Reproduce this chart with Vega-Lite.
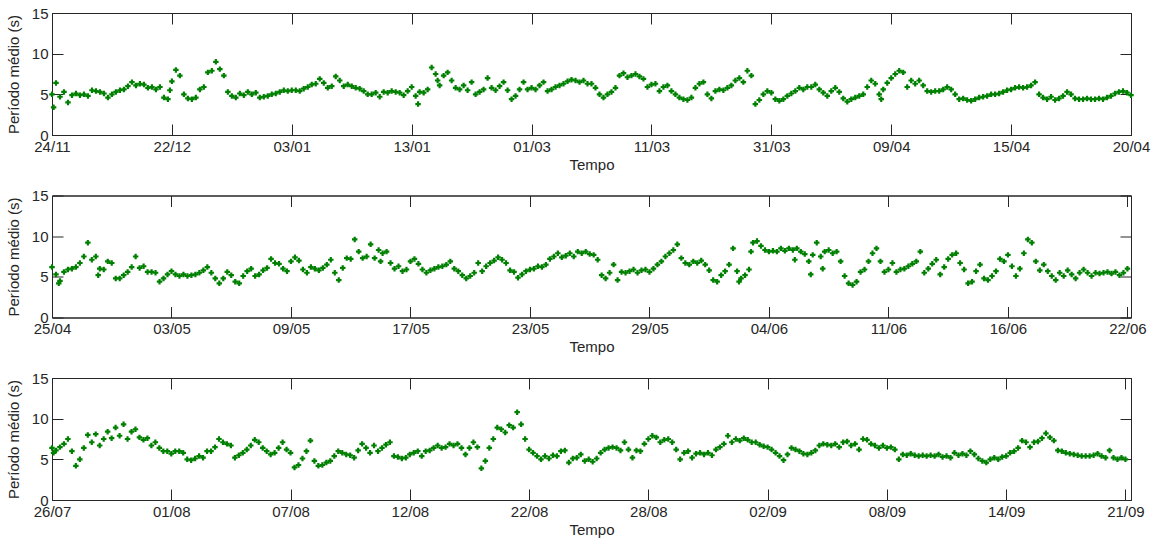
{
"$schema":"https://vega.github.io/schema/vega-lite/v6.json",
"background":"white",
"padding":{"left":5,"top":5,"right":5,"bottom":5},
"config":{"font":"Liberation Sans","view":{"stroke":"#262626","strokeWidth":1},
"axis":{"grid":false,"tickSize":-11,"tickColor":"#262626","domainColor":"#262626","labelColor":"#262626","titleColor":"#262626","labelFontSize":15,"titleFontSize":15,"titleFontWeight":"normal","labelFlush":false,"labelOverlap":false,"labelPadding":15}},
"datasets":{
"p1":[{"i":0,"v":5.0},{"i":0.4,"v":3.4},{"i":1,"v":6.4},{"i":2,"v":4.7},{"i":3,"v":5.3},{"i":4,"v":4.0},{"i":5,"v":4.9},{"i":6,"v":5.1},{"i":7,"v":4.9},{"i":8,"v":5.0},{"i":9,"v":4.8},{"i":10,"v":5.5},{"i":11,"v":5.4},{"i":12,"v":5.3},{"i":13,"v":5.1},{"i":14,"v":4.6},{"i":15,"v":5.0},{"i":16,"v":5.3},{"i":17,"v":5.5},{"i":18,"v":5.6},{"i":19,"v":6.0},{"i":20,"v":6.5},{"i":21,"v":6.1},{"i":22,"v":6.3},{"i":23,"v":6.2},{"i":24,"v":5.8},{"i":25,"v":5.9},{"i":26,"v":5.6},{"i":27,"v":5.9},{"i":28,"v":4.6},{"i":29,"v":4.4},{"i":29.5,"v":5.5},{"i":30,"v":6.6},{"i":31,"v":8.0},{"i":32,"v":7.3},{"i":33,"v":5.0},{"i":34,"v":4.5},{"i":35,"v":4.4},{"i":36,"v":4.6},{"i":37,"v":5.6},{"i":38,"v":5.9},{"i":39,"v":7.7},{"i":40,"v":7.9},{"i":41,"v":9.0},{"i":42,"v":8.1},{"i":43,"v":7.3},{"i":44,"v":5.3},{"i":45,"v":4.8},{"i":46,"v":4.6},{"i":47,"v":5.1},{"i":48,"v":4.9},{"i":49,"v":5.3},{"i":50,"v":5.0},{"i":51,"v":5.2},{"i":52,"v":4.6},{"i":53,"v":4.7},{"i":54,"v":4.8},{"i":55,"v":5.0},{"i":56,"v":5.1},{"i":57,"v":5.3},{"i":58,"v":5.5},{"i":59,"v":5.4},{"i":60,"v":5.5},{"i":61,"v":5.5},{"i":62,"v":5.4},{"i":63,"v":5.7},{"i":64,"v":5.9},{"i":65,"v":6.2},{"i":66,"v":6.3},{"i":67,"v":6.9},{"i":68,"v":6.4},{"i":69,"v":5.8},{"i":70,"v":6.0},{"i":71,"v":7.2},{"i":72,"v":6.7},{"i":73,"v":6.0},{"i":74,"v":6.2},{"i":75,"v":6.0},{"i":76,"v":5.8},{"i":77,"v":5.7},{"i":78,"v":5.4},{"i":79,"v":5.0},{"i":80,"v":5.0},{"i":81,"v":5.2},{"i":82,"v":4.7},{"i":83,"v":5.3},{"i":84,"v":5.2},{"i":85,"v":5.4},{"i":86,"v":5.3},{"i":87,"v":5.2},{"i":88,"v":4.9},{"i":89,"v":5.4},{"i":90,"v":5.9},{"i":91,"v":4.8},{"i":91.6,"v":3.8},{"i":92,"v":5.3},{"i":93,"v":5.2},{"i":94,"v":5.6},{"i":95,"v":8.3},{"i":96,"v":7.5},{"i":96.5,"v":6.7},{"i":97,"v":6.1},{"i":98,"v":7.3},{"i":99,"v":7.7},{"i":100,"v":6.7},{"i":101,"v":5.8},{"i":102,"v":5.6},{"i":103,"v":6.1},{"i":104,"v":5.5},{"i":105,"v":6.5},{"i":106,"v":5.0},{"i":107,"v":5.3},{"i":108,"v":5.6},{"i":109,"v":7.0},{"i":110,"v":5.8},{"i":111,"v":5.5},{"i":112,"v":6.0},{"i":113,"v":6.5},{"i":114,"v":5.5},{"i":115,"v":4.4},{"i":116,"v":4.8},{"i":117,"v":5.6},{"i":118,"v":6.5},{"i":119,"v":5.6},{"i":120,"v":5.8},{"i":121,"v":5.6},{"i":122,"v":6.1},{"i":123,"v":6.5},{"i":124,"v":5.4},{"i":125,"v":5.6},{"i":126,"v":5.9},{"i":127,"v":6.1},{"i":128,"v":6.3},{"i":129,"v":6.6},{"i":130,"v":6.8},{"i":131,"v":6.7},{"i":132,"v":6.5},{"i":133,"v":6.7},{"i":134,"v":6.3},{"i":135,"v":6.3},{"i":136,"v":5.8},{"i":137,"v":5.0},{"i":138,"v":4.6},{"i":139,"v":5.0},{"i":140,"v":5.3},{"i":141,"v":5.8},{"i":142,"v":7.3},{"i":143,"v":7.6},{"i":144,"v":7.1},{"i":145,"v":7.3},{"i":146,"v":7.5},{"i":147,"v":7.2},{"i":148,"v":6.9},{"i":149,"v":5.9},{"i":150,"v":6.2},{"i":151,"v":6.3},{"i":152,"v":5.4},{"i":153,"v":5.9},{"i":154,"v":6.1},{"i":155,"v":5.4},{"i":156,"v":5.0},{"i":157,"v":4.6},{"i":158,"v":4.4},{"i":159,"v":4.3},{"i":160,"v":4.6},{"i":161,"v":5.8},{"i":162,"v":6.3},{"i":163,"v":6.5},{"i":164,"v":5.0},{"i":165,"v":4.5},{"i":166,"v":5.4},{"i":167,"v":5.6},{"i":168,"v":5.5},{"i":169,"v":5.8},{"i":170,"v":6.1},{"i":171,"v":6.7},{"i":172,"v":7.0},{"i":173,"v":6.5},{"i":174,"v":7.9},{"i":175,"v":7.3},{"i":176,"v":3.8},{"i":177,"v":4.3},{"i":178,"v":5.0},{"i":179,"v":5.4},{"i":180,"v":5.2},{"i":181,"v":4.4},{"i":182,"v":4.2},{"i":183,"v":4.4},{"i":184,"v":4.8},{"i":185,"v":5.1},{"i":186,"v":5.4},{"i":187,"v":5.8},{"i":188,"v":5.6},{"i":189,"v":5.9},{"i":190,"v":5.9},{"i":191,"v":6.2},{"i":192,"v":5.6},{"i":193,"v":5.2},{"i":194,"v":4.8},{"i":195,"v":5.4},{"i":196,"v":5.8},{"i":197,"v":5.3},{"i":198,"v":4.5},{"i":199,"v":4.1},{"i":200,"v":4.4},{"i":201,"v":4.6},{"i":202,"v":4.8},{"i":203,"v":5.0},{"i":204,"v":5.9},{"i":205,"v":6.7},{"i":206,"v":6.3},{"i":207,"v":5.0},{"i":207.5,"v":4.4},{"i":208,"v":5.6},{"i":209,"v":6.4},{"i":210,"v":7.0},{"i":211,"v":7.5},{"i":212,"v":7.9},{"i":213,"v":7.7},{"i":214,"v":5.9},{"i":215,"v":6.7},{"i":216,"v":6.3},{"i":217,"v":6.7},{"i":218,"v":6.1},{"i":219,"v":5.4},{"i":220,"v":5.3},{"i":221,"v":5.4},{"i":222,"v":5.4},{"i":223,"v":5.6},{"i":224,"v":5.9},{"i":225,"v":5.6},{"i":226,"v":5.0},{"i":227,"v":4.4},{"i":228,"v":4.5},{"i":229,"v":4.3},{"i":230,"v":4.2},{"i":231,"v":4.4},{"i":232,"v":4.6},{"i":233,"v":4.7},{"i":234,"v":4.8},{"i":235,"v":5.0},{"i":236,"v":5.0},{"i":237,"v":5.1},{"i":238,"v":5.3},{"i":239,"v":5.5},{"i":240,"v":5.6},{"i":241,"v":5.8},{"i":242,"v":5.9},{"i":243,"v":5.8},{"i":244,"v":5.9},{"i":245,"v":6.1},{"i":246,"v":6.5},{"i":247,"v":5.0},{"i":248,"v":4.6},{"i":249,"v":4.4},{"i":250,"v":4.7},{"i":251,"v":4.3},{"i":252,"v":4.5},{"i":253,"v":4.8},{"i":254,"v":5.3},{"i":255,"v":5.0},{"i":256,"v":4.5},{"i":257,"v":4.4},{"i":258,"v":4.4},{"i":259,"v":4.5},{"i":260,"v":4.4},{"i":261,"v":4.4},{"i":262,"v":4.5},{"i":263,"v":4.4},{"i":264,"v":4.6},{"i":265,"v":4.8},{"i":266,"v":5.1},{"i":267,"v":5.3},{"i":268,"v":5.4},{"i":269,"v":5.2},{"i":270,"v":4.9}],
"p2":[{"i":0,"v":6.2},{"i":1,"v":5.3},{"i":1.7,"v":4.2},{"i":2,"v":4.5},{"i":3,"v":5.6},{"i":4,"v":5.9},{"i":5,"v":6.0},{"i":6,"v":6.2},{"i":7,"v":6.7},{"i":8,"v":7.5},{"i":9,"v":9.2},{"i":10,"v":7.1},{"i":11,"v":7.5},{"i":11.6,"v":5.2},{"i":12,"v":6.0},{"i":13,"v":5.9},{"i":14,"v":6.9},{"i":15,"v":6.7},{"i":16,"v":4.8},{"i":17,"v":4.8},{"i":18,"v":5.2},{"i":19,"v":5.6},{"i":20,"v":6.2},{"i":21,"v":7.5},{"i":22,"v":6.1},{"i":23,"v":6.3},{"i":24,"v":5.6},{"i":25,"v":5.6},{"i":26,"v":5.5},{"i":27,"v":4.4},{"i":28,"v":4.8},{"i":29,"v":5.3},{"i":30,"v":5.7},{"i":31,"v":5.3},{"i":32,"v":5.1},{"i":33,"v":5.3},{"i":34,"v":5.1},{"i":35,"v":5.2},{"i":36,"v":5.3},{"i":37,"v":5.5},{"i":38,"v":5.8},{"i":39,"v":6.2},{"i":40,"v":5.5},{"i":41,"v":4.8},{"i":42,"v":4.2},{"i":43,"v":4.8},{"i":44,"v":5.6},{"i":45,"v":5.2},{"i":46,"v":4.4},{"i":47,"v":4.2},{"i":48,"v":5.1},{"i":49,"v":5.7},{"i":50,"v":6.0},{"i":51,"v":5.1},{"i":52,"v":5.3},{"i":53,"v":5.8},{"i":54,"v":6.1},{"i":55,"v":7.2},{"i":56,"v":6.7},{"i":57,"v":6.6},{"i":58,"v":6.0},{"i":59,"v":5.7},{"i":60,"v":6.9},{"i":61,"v":7.4},{"i":62,"v":7.0},{"i":63,"v":5.9},{"i":64,"v":5.5},{"i":65,"v":6.2},{"i":66,"v":6.0},{"i":67,"v":5.8},{"i":68,"v":6.1},{"i":69,"v":6.5},{"i":70,"v":7.1},{"i":71,"v":5.5},{"i":72,"v":4.6},{"i":73,"v":6.1},{"i":74,"v":7.3},{"i":75,"v":7.2},{"i":76,"v":9.6},{"i":77,"v":8.1},{"i":78,"v":7.3},{"i":79,"v":7.5},{"i":80,"v":9.0},{"i":81,"v":7.3},{"i":82,"v":8.3},{"i":82.5,"v":6.9},{"i":83,"v":7.9},{"i":84,"v":8.1},{"i":85,"v":6.7},{"i":86,"v":6.0},{"i":87,"v":6.3},{"i":88,"v":5.7},{"i":89,"v":5.9},{"i":90,"v":6.9},{"i":91,"v":7.2},{"i":92,"v":6.6},{"i":93,"v":5.9},{"i":94,"v":5.5},{"i":95,"v":5.8},{"i":96,"v":6.0},{"i":97,"v":6.2},{"i":98,"v":6.3},{"i":99,"v":6.5},{"i":100,"v":6.9},{"i":101,"v":6.0},{"i":102,"v":5.7},{"i":103,"v":5.2},{"i":104,"v":4.8},{"i":105,"v":5.1},{"i":106,"v":5.5},{"i":107,"v":6.7},{"i":108,"v":5.7},{"i":109,"v":6.3},{"i":110,"v":6.7},{"i":111,"v":7.0},{"i":112,"v":7.4},{"i":113,"v":7.1},{"i":114,"v":6.7},{"i":115,"v":5.8},{"i":116,"v":5.6},{"i":117,"v":4.9},{"i":118,"v":5.3},{"i":119,"v":5.7},{"i":120,"v":5.9},{"i":121,"v":6.0},{"i":122,"v":6.3},{"i":123,"v":6.2},{"i":124,"v":6.5},{"i":125,"v":7.2},{"i":126,"v":7.5},{"i":127,"v":7.9},{"i":128,"v":7.4},{"i":129,"v":7.6},{"i":130,"v":7.9},{"i":131,"v":7.5},{"i":132,"v":8.1},{"i":133,"v":7.9},{"i":134,"v":8.1},{"i":135,"v":7.8},{"i":136,"v":7.7},{"i":137,"v":7.1},{"i":138,"v":5.2},{"i":139,"v":4.8},{"i":140,"v":5.5},{"i":141,"v":6.5},{"i":142,"v":4.6},{"i":143,"v":5.6},{"i":144,"v":5.5},{"i":145,"v":5.7},{"i":146,"v":5.9},{"i":147,"v":5.5},{"i":148,"v":5.8},{"i":149,"v":5.9},{"i":150,"v":5.6},{"i":151,"v":6.0},{"i":152,"v":6.5},{"i":153,"v":6.9},{"i":154,"v":7.5},{"i":155,"v":7.9},{"i":156,"v":8.3},{"i":157,"v":9.0},{"i":158,"v":7.3},{"i":159,"v":6.7},{"i":160,"v":6.5},{"i":161,"v":6.9},{"i":162,"v":6.7},{"i":163,"v":7.0},{"i":164,"v":6.5},{"i":165,"v":5.8},{"i":166,"v":4.6},{"i":167,"v":4.4},{"i":168,"v":5.2},{"i":169,"v":5.7},{"i":170,"v":6.5},{"i":171,"v":8.5},{"i":172,"v":5.7},{"i":172.5,"v":4.4},{"i":173,"v":4.8},{"i":174,"v":5.2},{"i":175,"v":5.9},{"i":175.5,"v":8.1},{"i":176,"v":9.2},{"i":177,"v":9.4},{"i":178,"v":8.8},{"i":179,"v":8.3},{"i":180,"v":8.1},{"i":181,"v":8.2},{"i":182,"v":8.1},{"i":183,"v":8.5},{"i":184,"v":8.2},{"i":185,"v":8.5},{"i":186,"v":8.3},{"i":186.5,"v":7.1},{"i":187,"v":8.5},{"i":188,"v":8.1},{"i":189,"v":7.8},{"i":190,"v":6.9},{"i":190.5,"v":5.3},{"i":191,"v":7.7},{"i":192,"v":9.2},{"i":193,"v":7.5},{"i":193.5,"v":6.0},{"i":194,"v":8.1},{"i":195,"v":8.3},{"i":196,"v":7.9},{"i":197,"v":8.1},{"i":198,"v":6.9},{"i":199,"v":5.1},{"i":200,"v":4.2},{"i":201,"v":4.0},{"i":202,"v":4.4},{"i":203,"v":5.6},{"i":204,"v":5.9},{"i":205,"v":6.9},{"i":206,"v":7.9},{"i":207,"v":8.5},{"i":208,"v":6.9},{"i":209,"v":5.6},{"i":210,"v":5.9},{"i":211,"v":6.7},{"i":212,"v":5.6},{"i":213,"v":5.9},{"i":214,"v":6.0},{"i":215,"v":6.3},{"i":216,"v":6.6},{"i":217,"v":6.9},{"i":218,"v":8.1},{"i":219,"v":5.5},{"i":220,"v":6.0},{"i":221,"v":6.6},{"i":222,"v":7.1},{"i":223,"v":5.3},{"i":224,"v":6.2},{"i":225,"v":7.2},{"i":226,"v":7.7},{"i":227,"v":7.9},{"i":228,"v":6.7},{"i":229,"v":5.9},{"i":230,"v":4.2},{"i":231,"v":4.4},{"i":232,"v":5.7},{"i":233,"v":6.5},{"i":234,"v":4.8},{"i":235,"v":4.6},{"i":236,"v":5.1},{"i":237,"v":5.7},{"i":238,"v":7.2},{"i":239,"v":6.9},{"i":240,"v":7.7},{"i":241,"v":6.3},{"i":242,"v":5.1},{"i":243,"v":6.0},{"i":244,"v":7.9},{"i":245,"v":9.6},{"i":246,"v":9.2},{"i":247,"v":6.9},{"i":248,"v":5.8},{"i":249,"v":6.5},{"i":250,"v":5.7},{"i":251,"v":5.1},{"i":252,"v":4.6},{"i":253,"v":5.5},{"i":254,"v":5.1},{"i":255,"v":5.8},{"i":256,"v":5.3},{"i":257,"v":4.8},{"i":258,"v":5.5},{"i":259,"v":5.9},{"i":260,"v":5.5},{"i":261,"v":5.1},{"i":262,"v":5.5},{"i":263,"v":5.4},{"i":264,"v":5.5},{"i":265,"v":5.6},{"i":266,"v":5.4},{"i":267,"v":5.6},{"i":268,"v":5.2},{"i":269,"v":5.5},{"i":270,"v":6.0}],
"p3":[{"i":0,"v":6.4},{"i":0.4,"v":5.8},{"i":1,"v":6.1},{"i":2,"v":6.5},{"i":3,"v":6.9},{"i":4,"v":7.5},{"i":5,"v":6.0},{"i":6,"v":4.2},{"i":7,"v":5.0},{"i":8,"v":6.4},{"i":9,"v":8.0},{"i":10,"v":7.1},{"i":11,"v":8.1},{"i":12,"v":6.7},{"i":13,"v":7.5},{"i":14,"v":8.4},{"i":15,"v":7.6},{"i":16,"v":8.9},{"i":17,"v":7.9},{"i":18,"v":9.3},{"i":19,"v":7.5},{"i":20,"v":8.4},{"i":21,"v":8.7},{"i":22,"v":7.7},{"i":23,"v":7.4},{"i":24,"v":7.6},{"i":25,"v":6.7},{"i":26,"v":7.1},{"i":27,"v":6.4},{"i":28,"v":6.0},{"i":29,"v":6.0},{"i":30,"v":5.7},{"i":31,"v":6.0},{"i":32,"v":6.0},{"i":33,"v":5.8},{"i":34,"v":5.0},{"i":35,"v":4.9},{"i":36,"v":5.1},{"i":37,"v":5.4},{"i":38,"v":5.2},{"i":39,"v":6.0},{"i":40,"v":6.0},{"i":41,"v":6.5},{"i":42,"v":7.5},{"i":43,"v":7.1},{"i":44,"v":6.9},{"i":45,"v":6.7},{"i":46,"v":5.2},{"i":47,"v":5.5},{"i":48,"v":5.8},{"i":49,"v":6.2},{"i":50,"v":6.7},{"i":51,"v":7.4},{"i":52,"v":7.1},{"i":53,"v":6.4},{"i":54,"v":6.0},{"i":55,"v":5.6},{"i":56,"v":5.8},{"i":57,"v":6.4},{"i":58,"v":7.1},{"i":59,"v":6.2},{"i":60,"v":5.8},{"i":61,"v":4.0},{"i":62,"v":4.3},{"i":63,"v":5.1},{"i":64,"v":6.0},{"i":65,"v":7.3},{"i":66,"v":4.8},{"i":67,"v":4.2},{"i":68,"v":4.3},{"i":69,"v":4.6},{"i":70,"v":4.8},{"i":71,"v":5.4},{"i":72,"v":6.0},{"i":73,"v":5.8},{"i":74,"v":5.6},{"i":75,"v":5.5},{"i":76,"v":5.2},{"i":77,"v":6.1},{"i":78,"v":6.9},{"i":79,"v":6.4},{"i":80,"v":5.8},{"i":81,"v":6.7},{"i":82,"v":6.0},{"i":83,"v":6.4},{"i":84,"v":6.8},{"i":85,"v":7.1},{"i":86,"v":5.4},{"i":87,"v":5.3},{"i":88,"v":5.1},{"i":89,"v":5.2},{"i":90,"v":5.6},{"i":91,"v":5.8},{"i":92,"v":6.0},{"i":93,"v":5.4},{"i":94,"v":6.0},{"i":95,"v":6.1},{"i":96,"v":6.4},{"i":97,"v":6.7},{"i":98,"v":6.4},{"i":99,"v":6.5},{"i":100,"v":6.9},{"i":101,"v":6.7},{"i":102,"v":6.9},{"i":103,"v":6.4},{"i":104,"v":5.6},{"i":105,"v":6.4},{"i":106,"v":7.1},{"i":107,"v":6.5},{"i":108,"v":3.9},{"i":109,"v":4.8},{"i":110,"v":6.4},{"i":111,"v":7.5},{"i":112,"v":8.9},{"i":113,"v":8.7},{"i":114,"v":8.3},{"i":115,"v":9.2},{"i":116,"v":8.9},{"i":117,"v":10.8},{"i":118,"v":9.3},{"i":119,"v":7.5},{"i":120,"v":6.2},{"i":121,"v":5.8},{"i":122,"v":5.4},{"i":123,"v":5.0},{"i":124,"v":5.4},{"i":125,"v":5.1},{"i":126,"v":5.5},{"i":127,"v":5.4},{"i":128,"v":6.0},{"i":129,"v":6.1},{"i":130,"v":4.6},{"i":131,"v":5.1},{"i":132,"v":5.2},{"i":133,"v":5.6},{"i":134,"v":4.8},{"i":135,"v":5.0},{"i":136,"v":4.7},{"i":137,"v":5.1},{"i":138,"v":5.8},{"i":139,"v":6.2},{"i":140,"v":6.4},{"i":141,"v":6.5},{"i":142,"v":6.4},{"i":143,"v":6.1},{"i":144,"v":7.1},{"i":145,"v":6.2},{"i":146,"v":5.2},{"i":147,"v":6.1},{"i":148,"v":6.0},{"i":149,"v":6.9},{"i":150,"v":7.5},{"i":151,"v":7.9},{"i":152,"v":7.7},{"i":153,"v":7.1},{"i":154,"v":7.4},{"i":155,"v":7.5},{"i":156,"v":7.1},{"i":157,"v":6.2},{"i":158,"v":5.0},{"i":159,"v":5.8},{"i":160,"v":6.0},{"i":161,"v":5.2},{"i":162,"v":5.7},{"i":163,"v":5.8},{"i":164,"v":5.6},{"i":165,"v":5.8},{"i":166,"v":5.5},{"i":167,"v":6.2},{"i":168,"v":6.5},{"i":169,"v":6.9},{"i":170,"v":7.9},{"i":171,"v":7.1},{"i":172,"v":7.5},{"i":173,"v":7.3},{"i":174,"v":7.6},{"i":175,"v":7.4},{"i":176,"v":7.1},{"i":177,"v":7.1},{"i":178,"v":6.8},{"i":179,"v":6.6},{"i":180,"v":6.5},{"i":181,"v":6.2},{"i":182,"v":5.8},{"i":183,"v":5.4},{"i":184,"v":4.9},{"i":185,"v":5.6},{"i":186,"v":6.4},{"i":187,"v":6.2},{"i":188,"v":6.0},{"i":189,"v":5.7},{"i":190,"v":5.6},{"i":191,"v":5.8},{"i":192,"v":6.1},{"i":193,"v":6.7},{"i":194,"v":6.9},{"i":195,"v":6.8},{"i":196,"v":6.7},{"i":197,"v":6.9},{"i":198,"v":6.5},{"i":199,"v":7.1},{"i":200,"v":7.2},{"i":201,"v":6.7},{"i":202,"v":6.9},{"i":203,"v":6.2},{"i":204,"v":7.5},{"i":205,"v":7.4},{"i":206,"v":6.9},{"i":207,"v":6.7},{"i":208,"v":6.4},{"i":209,"v":6.7},{"i":210,"v":6.4},{"i":211,"v":6.5},{"i":212,"v":6.2},{"i":213,"v":5.0},{"i":214,"v":5.6},{"i":215,"v":5.5},{"i":216,"v":5.7},{"i":217,"v":5.5},{"i":218,"v":5.4},{"i":219,"v":5.5},{"i":220,"v":5.4},{"i":221,"v":5.5},{"i":222,"v":5.4},{"i":223,"v":5.6},{"i":224,"v":5.3},{"i":225,"v":5.4},{"i":226,"v":5.2},{"i":227,"v":5.8},{"i":228,"v":5.5},{"i":229,"v":5.7},{"i":230,"v":5.5},{"i":231,"v":6.0},{"i":232,"v":5.6},{"i":233,"v":5.1},{"i":234,"v":4.8},{"i":235,"v":4.6},{"i":236,"v":5.0},{"i":237,"v":5.2},{"i":238,"v":5.0},{"i":239,"v":5.3},{"i":240,"v":5.4},{"i":241,"v":5.8},{"i":242,"v":6.0},{"i":243,"v":6.4},{"i":244,"v":7.3},{"i":245,"v":7.1},{"i":246,"v":6.5},{"i":247,"v":7.1},{"i":248,"v":7.2},{"i":249,"v":7.6},{"i":250,"v":8.2},{"i":251,"v":7.7},{"i":252,"v":7.3},{"i":253,"v":6.1},{"i":254,"v":6.0},{"i":255,"v":5.8},{"i":256,"v":5.7},{"i":257,"v":5.6},{"i":258,"v":5.5},{"i":259,"v":5.4},{"i":260,"v":5.4},{"i":261,"v":5.4},{"i":262,"v":5.5},{"i":263,"v":5.7},{"i":264,"v":5.4},{"i":265,"v":5.2},{"i":266,"v":6.1},{"i":267,"v":5.2},{"i":268,"v":5.0},{"i":269,"v":5.2},{"i":270,"v":5.0}]
},
"bounds":"flush",
"spacing":60.5,
"vconcat":[
{"width":1079,"height":122,"data":{"name":"p1"},
"layer":[
{"mark":{"type":"point","shape":"cross","filled":true,"size":30,"color":"#008000","opacity":1},
"encoding":{"x":{"field":"i","type":"quantitative","scale":{"domain":[0,270],"nice":false,"zero":false},"axis":{"orient":"bottom","values":[0,30,60,90,120,150,180,210,240,270],"labelExpr":"['24/11','22/12','03/01','13/01','01/03','11/03','31/03','09/04','15/04','20/04'][round(datum.value/30)]","title":"Tempo","titlePadding":3}},
"y":{"field":"v","type":"quantitative","scale":{"domain":[0,15],"nice":false,"zero":false},"axis":{"orient":"left","values":[0,5,10,15],"title":"Período médio (s)","titlePadding":10}}}},
{"mark":{"type":"point","opacity":0},
"encoding":{"x":{"field":"i","type":"quantitative","scale":{"domain":[0,270],"nice":false,"zero":false},"axis":{"orient":"top","values":[0,30,60,90,120,150,180,210,240,270],"labels":false,"title":null}},
"y":{"field":"v","type":"quantitative","scale":{"domain":[0,15],"nice":false,"zero":false},"axis":{"orient":"right","values":[0,5,10,15],"labels":false,"title":null}}}}
],
"resolve":{"axis":{"x":"independent","y":"independent"}}},
{"width":1079,"height":122,"data":{"name":"p2"},
"layer":[
{"mark":{"type":"point","shape":"cross","filled":true,"size":30,"color":"#008000","opacity":1},
"encoding":{"x":{"field":"i","type":"quantitative","scale":{"domain":[0,270.9],"nice":false,"zero":false},"axis":{"orient":"bottom","values":[0,30,60,90,120,150,180,210,240,270],"labelExpr":"['25/04','03/05','09/05','17/05','23/05','29/05','04/06','11/06','16/06','22/06'][round(datum.value/30)]","title":"Tempo","titlePadding":3}},
"y":{"field":"v","type":"quantitative","scale":{"domain":[0,15],"nice":false,"zero":false},"axis":{"orient":"left","values":[0,5,10,15],"title":"Período médio (s)","titlePadding":10}}}},
{"mark":{"type":"point","opacity":0},
"encoding":{"x":{"field":"i","type":"quantitative","scale":{"domain":[0,270.9],"nice":false,"zero":false},"axis":{"orient":"top","values":[0,30,60,90,120,150,180,210,240,270],"labels":false,"title":null}},
"y":{"field":"v","type":"quantitative","scale":{"domain":[0,15],"nice":false,"zero":false},"axis":{"orient":"right","values":[0,5,10,15],"labels":false,"title":null}}}}
],
"resolve":{"axis":{"x":"independent","y":"independent"}}},
{"width":1079,"height":122,"data":{"name":"p3"},
"layer":[
{"mark":{"type":"point","shape":"cross","filled":true,"size":30,"color":"#008000","opacity":1},
"encoding":{"x":{"field":"i","type":"quantitative","scale":{"domain":[0,271.4],"nice":false,"zero":false},"axis":{"orient":"bottom","values":[0,30,60,90,120,150,180,210,240,270],"labelExpr":"['26/07','01/08','07/08','12/08','22/08','28/08','02/09','08/09','14/09','21/09'][round(datum.value/30)]","title":"Tempo","titlePadding":3}},
"y":{"field":"v","type":"quantitative","scale":{"domain":[0,15],"nice":false,"zero":false},"axis":{"orient":"left","values":[0,5,10,15],"title":"Período médio (s)","titlePadding":10}}}},
{"mark":{"type":"point","opacity":0},
"encoding":{"x":{"field":"i","type":"quantitative","scale":{"domain":[0,271.4],"nice":false,"zero":false},"axis":{"orient":"top","values":[0,30,60,90,120,150,180,210,240,270],"labels":false,"title":null}},
"y":{"field":"v","type":"quantitative","scale":{"domain":[0,15],"nice":false,"zero":false},"axis":{"orient":"right","values":[0,5,10,15],"labels":false,"title":null}}}}
],
"resolve":{"axis":{"x":"independent","y":"independent"}}}
]
}
